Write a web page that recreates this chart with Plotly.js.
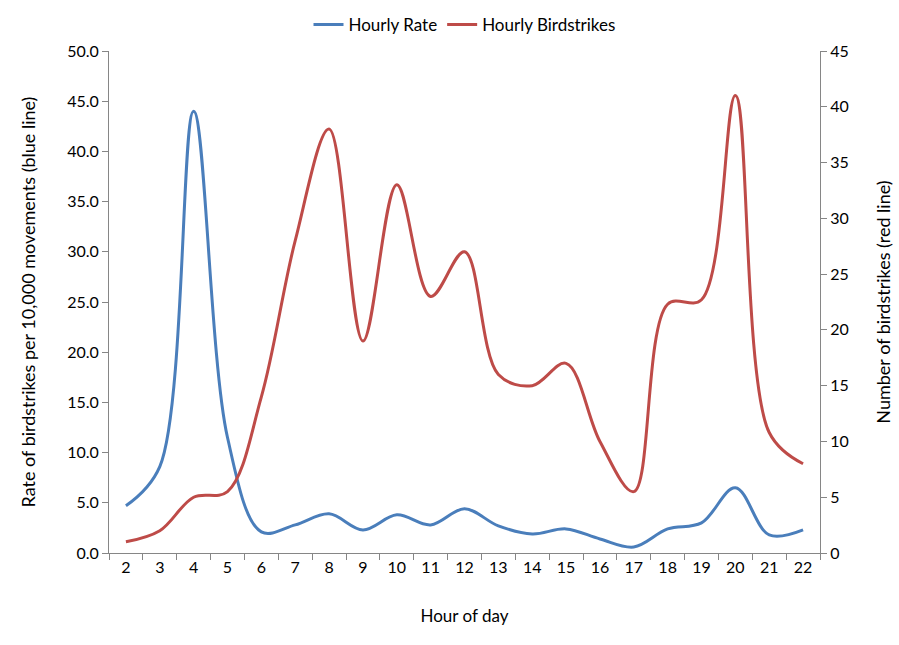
<!DOCTYPE html>
<html><head><meta charset="utf-8">
<script src="https://cdn.plot.ly/plotly-3.0.1.min.js"></script>
<style>html,body{margin:0;padding:0;background:#fff}#c{width:899px;height:645px}</style>
</head><body><div id="c"></div>
<script>
const hours = ["2","3","4","5","6","7","8","9","10","11","12","13","14","15","16","17","18","19","20","21","22"];
const hourlyRate = [4.7,8.6,44.0,11.5,2.1,2.8,3.9,2.3,3.8,2.8,4.4,2.7,1.9,2.4,1.4,0.6,2.4,3.0,6.5,1.8,2.3];
const hourlyBirdstrikes = [1,2,5,5.5,14,28,38,19,33,23,27,16,15,17,10,5.5,22.3,22.7,41,10.8,8];
const leftTicks = [0,5,10,15,20,25,30,35,40,45,50];
const rightTicks = [0,5,10,15,20,25,30,35,40,45];

const FONT = "Lato, 'Open Sans', 'Liberation Sans', sans-serif";
const axisColor = "#868686";

const traces = [
  {x: hours, y: hourlyRate, name: "Hourly Rate", type: "scatter", mode: "lines",
   line: {color: "#4A7EBB", width: 3, shape: "spline", smoothing: 1}, yaxis: "y"},
  {x: hours, y: hourlyBirdstrikes, name: "Hourly Birdstrikes", type: "scatter", mode: "lines",
   line: {color: "#BE4B48", width: 3, shape: "spline", smoothing: 1}, yaxis: "y2"}
];

const layout = {
  width: 899, height: 645,
  margin: {l: 109, r: 79, t: 51, b: 92, autoexpand: false},
  paper_bgcolor: "#fff", plot_bgcolor: "#fff",
  font: {family: FONT, size: 15, color: "#000"},
  showlegend: true,
  legend: {orientation: "h", x: 0.5, xanchor: "center", xref: "paper",
           y: 1 - 25/645, yref: "container", yanchor: "middle",
           font: {size: 17}, itemwidth: 30},
  xaxis: {type: "category", range: [-0.5, 20.5], tickson: "boundaries",
          ticks: "outside", ticklen: 6, tickcolor: axisColor, showline: true, linecolor: axisColor,
          showgrid: false, zeroline: false, tickfont: {size: 16},
          title: {text: "Hour of day", font: {size: 17}, standoff: 34}},
  yaxis: {range: [0, 50], tickvals: leftTicks, tickformat: ".1f", ticks: "outside", ticklen: 6,
          tickcolor: axisColor, showline: true, linecolor: axisColor, showgrid: false, zeroline: false,
          tickfont: {size: 16},
          title: {text: "Rate of birdstrikes per 10,000 movements (blue line)", font: {size: 18}, standoff: 26}},
  yaxis2: {range: [0, 45], tickvals: rightTicks, overlaying: "y", side: "right", ticks: "outside", ticklen: 6,
          tickcolor: axisColor, showline: true, linecolor: axisColor, showgrid: false, zeroline: false,
          tickfont: {size: 16},
          title: {text: "Number of birdstrikes (red line)", font: {size: 18}, standoff: 29}}
};

Plotly.newPlot("c", traces, layout, {displayModeBar: false, staticPlot: true});
</script></body></html>
